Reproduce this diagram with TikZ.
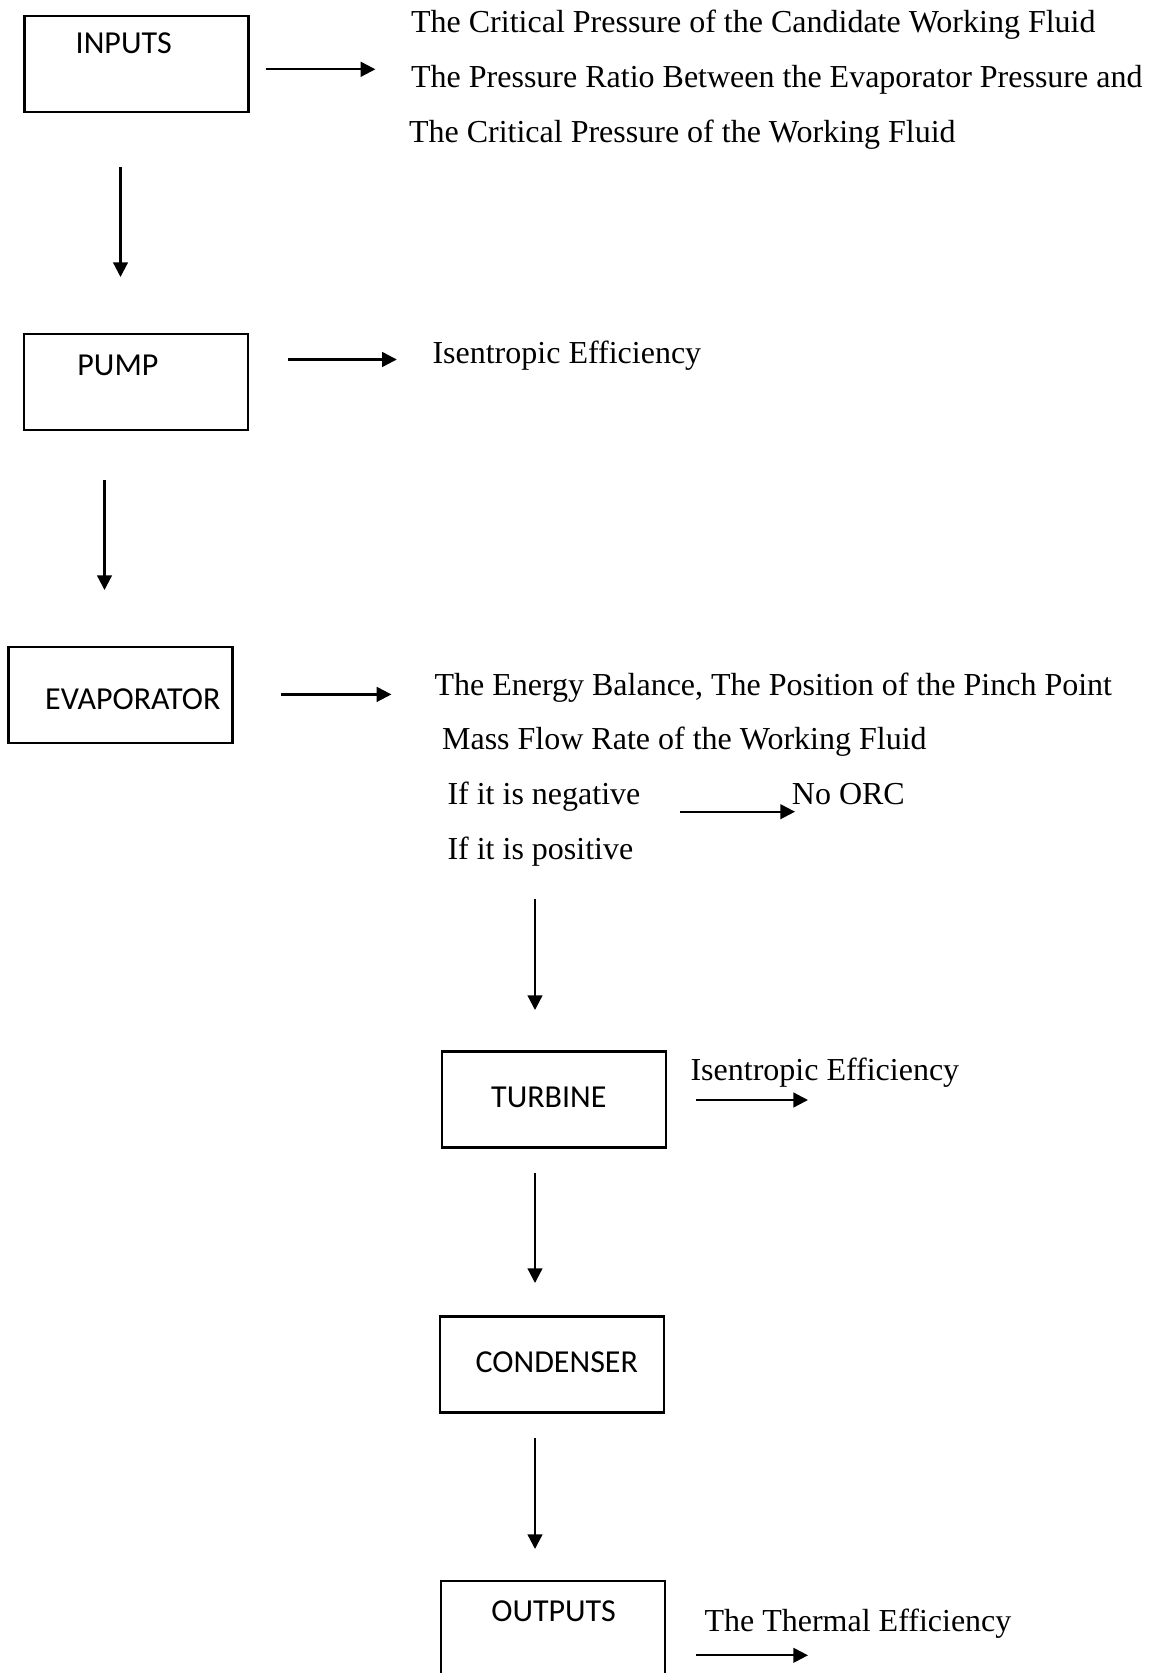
\documentclass[tikz,border=0pt]{standalone}
\usepackage{fontspec}
\setmainfont{Liberation Serif}
\newfontfamily\boxfont{Carlito}
\usetikzlibrary{arrows.meta}
\usetikzlibrary{positioning}
\tikzset{block/.style={rectangle,draw,line width=0.9pt,minimum width=84pt,
minimum height=36pt,inner sep=0pt},
lbl/.style={inner sep=0pt,anchor=base,font=\boxfont\fontsize{12}{14}\selectfont},
txt/.style={inner sep=0pt,anchor=base west,font=\fontsize{12}{14}\selectfont},
flow/.style={line width=0.85pt,->},
>={Triangle[length=5.5pt,width=5.5pt]}}
\begin{document}
\begin{tikzpicture}[x=0.375pt,y=-0.375pt]
  \useasboundingbox (0,0) rectangle (1153,1673);

  % blocks
  \node (inputs) [block] at (136.5,64) {};
  \node (pump) [block] at (136,382) {};
  \node (evap) [block] at (120.5,695) {};
  \node (turb) [block] at (554,1099.5) {};
  \node (cond) [block] at (551.8,1364.5) {};
  \node (outs) [block] at (553,1629) {};

  \node (inputs-t) [lbl] at (123.7,53.3) {INPUTS};
  \node (pump-t) [lbl] at (117.9,375) {PUMP};
  \node (evap-t) [lbl] at (132.8,709.3) {EVAPORATOR};
  \node (turb-t) [lbl] at (548.8,1107.7) {TURBINE};
  \node (cond-t) [lbl] at (556.8,1372) {CONDENSER};
  \node (outs-t) [lbl] at (553.6,1621) {OUTPUTS};

  % side texts
  \node (crit) [txt] at (410.6,32.3) {The Critical Pressure of the Candidate Working Fluid};
  \node (ratio) [txt] at (410.6,87.3) {The Pressure Ratio Between the Evaporator Pressure and};
  \node (critwf) [txt] at (408.5,142.3) {The Critical Pressure of the Working Fluid};
  \node (pumpeff) [txt] at (432,363.3) {Isentropic Efficiency};
  \node (energy) [txt] at (434,695) {The Energy Balance, The Position of the Pinch Point};
  \node (mass) [txt] at (441.6,749.3) {Mass Flow Rate of the Working Fluid};
  \node (neg) [txt] at (447,804.3) {If it is negative};
  \node (pos) [txt] at (447,859.3) {If it is positive};
  \node (noorc) [txt] at (791.4,804.3) {No ORC};
  \node (turbeff) [txt] at (690,1080) {Isentropic Efficiency};
  \node (thermal) [txt] at (704,1631.7) {The Thermal Efficiency};

  % arrow ends
  \coordinate (v1a) at (120.5,167.5);  \coordinate (v1b) at (120.5,277);
  \coordinate (v2a) at (104.5,480);    \coordinate (v2b) at (104.5,590);
  \coordinate (v3a) at (535,899);      \coordinate (v3b) at (535,1010);
  \coordinate (v4a) at (535,1173);     \coordinate (v4b) at (535,1283);
  \coordinate (v5a) at (535,1438);     \coordinate (v5b) at (535,1549);
  \coordinate (h1a) at (265.6,69.3);   \coordinate (h1b) at (375.4,69.3);
  \coordinate (h2a) at (288,359.5);    \coordinate (h2b) at (396.8,359.5);
  \coordinate (h3a) at (280.5,694.4);  \coordinate (h3b) at (391.4,694.4);
  \coordinate (h4a) at (680,811.7);    \coordinate (h4b) at (795,811.7);
  \coordinate (h5a) at (696,1100);     \coordinate (h5b) at (808,1100);
  \coordinate (h6a) at (696,1655.3);   \coordinate (h6b) at (808,1655.3);

  \draw [flow] (v1a) -- (v1b);
  \draw [flow] (v2a) -- (v2b);
  \draw [flow] (v3a) -- (v3b);
  \draw [flow] (v4a) -- (v4b);
  \draw [flow] (v5a) -- (v5b);
  \draw [flow] (h1a) -- (h1b);
  \draw [flow] (h2a) -- (h2b);
  \draw [flow] (h3a) -- (h3b);
  \draw [flow] (h4a) -- (h4b);
  \draw [flow] (h5a) -- (h5b);
  \draw [flow] (h6a) -- (h6b);
\end{tikzpicture}
\end{document}
